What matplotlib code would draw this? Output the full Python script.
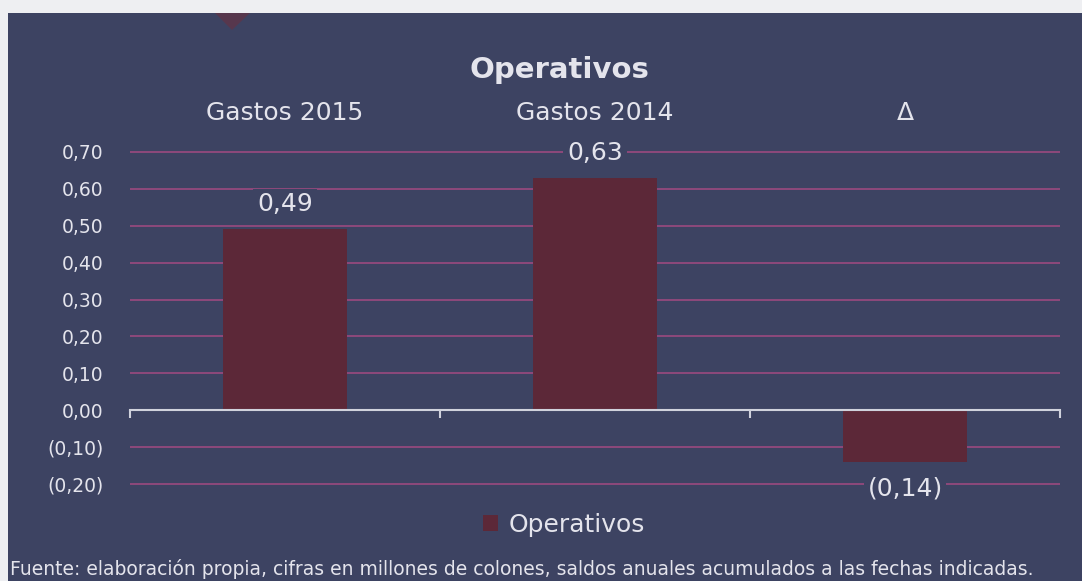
import matplotlib
matplotlib.use("Agg")
import matplotlib.pyplot as plt
from matplotlib.patches import Rectangle, Polygon
import numpy as np

# data
categories = ["Gastos 2015", "Gastos 2014", "Δ"]
values = [0.49, 0.63, -0.14]
value_labels = ["0,49", "0,63", "(0,14)"]
ytick_vals = [-0.20, -0.10, 0.0, 0.10, 0.20, 0.30, 0.40, 0.50, 0.60, 0.70]
ytick_labels = ["(0,20)", "(0,10)", "0,00", "0,10", "0,20", "0,30", "0,40",
                "0,50", "0,60", "0,70"]

bg = "#3d4362"
bar_col = "#5c2838"
grid_col = "#a44a82"
txt = "#e4e4ec"

plt.rcParams['font.family'] = ['DejaVu Sans']

fig = plt.figure(figsize=(10.82, 5.81), dpi=100)
fig.patch.set_facecolor("#eeeff2")

# dark panel
fig.patches.append(Rectangle((8 / 1082, 0), 1, 1 - 13 / 581, transform=fig.transFigure,
                             facecolor=bg, edgecolor="none", zorder=-10))
# faint red shape at top of the panel
fig.patches.append(Polygon([(215 / 1082, 1 - 13 / 581), (250 / 1082, 1 - 13 / 581),
                            (232 / 1082, 1 - 30 / 581)], closed=True,
                           transform=fig.transFigure, facecolor="#6a3040",
                           edgecolor="none", alpha=0.6, zorder=-9))

ax = fig.add_axes([130 / 1082, 1 - 486 / 581, 930 / 1082, 336 / 581])
ax.set_facecolor("none")

x = np.arange(len(categories))
bars = ax.bar(x, values, width=0.4, color=bar_col, zorder=3, label="Operativos")
ax.set_xlim(-0.5, 2.5)
ax.set_ylim(-0.205, 0.705)

# gridlines
ax.set_yticks(ytick_vals)
ax.set_yticklabels(ytick_labels, color=txt, fontsize=13.5)
ax.tick_params(axis="y", length=0, pad=19)
ax.yaxis.grid(True, color=grid_col, linewidth=1.1, zorder=1)
ax.set_axisbelow(True)

for s in ["left", "right", "top"]:
    ax.spines[s].set_visible(False)
ax.spines["bottom"].set_position(("data", 0))
ax.spines["bottom"].set_color("#d0d2dc")
ax.spines["bottom"].set_linewidth(1.5)
ax.spines["bottom"].set_zorder(4)

ax.set_xticks([-0.5, 0.5, 1.5, 2.5])
ax.set_xticklabels([])
ax.tick_params(axis="x", direction="out", length=6, width=1.5, color="#d0d2dc")

# category labels on top
sec = ax.secondary_xaxis("top")
sec.set_xticks(x)
sec.set_xticklabels(categories, color=txt, fontsize=18)
sec.tick_params(length=0, pad=18)
for s in sec.spines.values():
    s.set_visible(False)

# value labels
for xi, v, lab in zip(x, values, value_labels):
    off = 0.035 if v >= 0 else -0.04
    ax.text(xi, v + off, lab, ha="center", va="bottom" if v >= 0 else "top",
            color=txt, fontsize=18, zorder=5,
            bbox=dict(boxstyle="square,pad=0.15", facecolor=bg, edgecolor="none"))

fig.text(559 / 1082, 1 - 70 / 581, "Operativos", ha="center", va="center",
         color=txt, fontsize=21, fontweight="bold")

leg = fig.legend(handles=[bars], labels=["Operativos"], loc="center",
                 bbox_to_anchor=(564 / 1082, 1 - 525 / 581), frameon=False,
                 fontsize=18, labelcolor=txt, handlelength=0.6, handleheight=0.6,
                 handletextpad=0.4)

fig.text(10 / 1082, 1 - 569 / 581,
         "Fuente: elaboración propia, cifras en millones de colones, saldos anuales acumulados a las fechas indicadas.",
         ha="left", va="center", color=txt, fontsize=13.5)

fig.savefig("out.png", dpi=100, facecolor=fig.get_facecolor())
